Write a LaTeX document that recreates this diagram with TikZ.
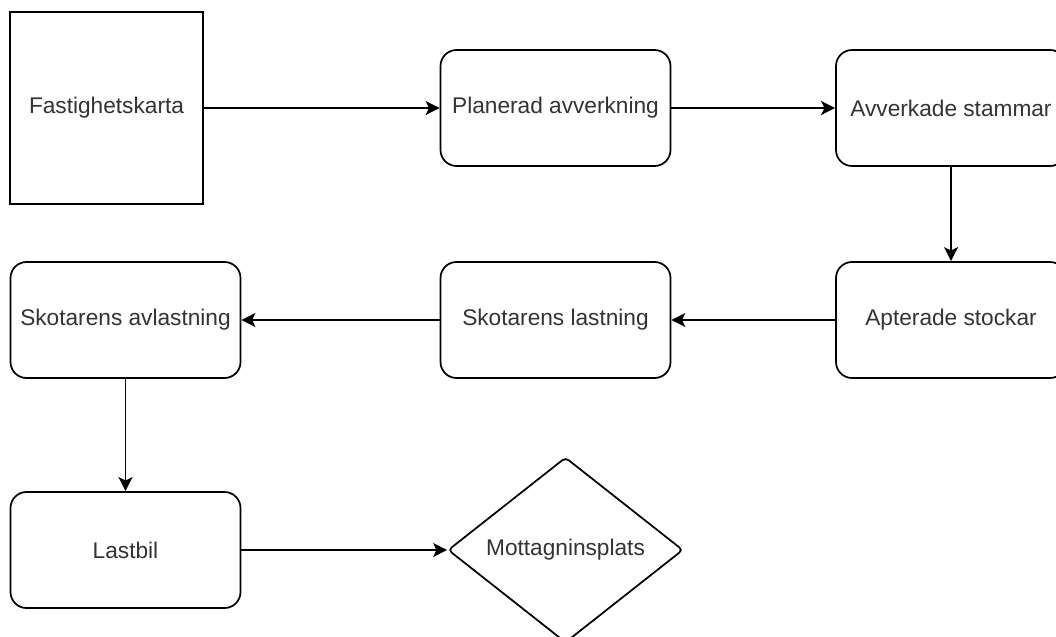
\documentclass[tikz,border=0pt]{standalone}
\usepackage{fontspec}
\setmainfont{Liberation Sans}
\usetikzlibrary{arrows.meta,shapes.geometric}
\definecolor{txt}{HTML}{333333}
\begin{document}
\begin{tikzpicture}[x=0.75pt,y=-0.75pt,
  every node/.style={font=\fontsize{17}{20}\selectfont, text=txt},
  procbox/.style={draw=black, line width=1.3pt, rounded corners=12pt, fill=white,
    minimum width=172.5pt, minimum height=87pt, inner sep=0pt},
  sqbox/.style={draw=black, line width=1.3pt, fill=white,
    minimum width=144.75pt, minimum height=144pt, inner sep=0pt},
  endbox/.style={draw=black, line width=1.3pt, diamond, rounded corners=3pt, fill=white,
    minimum width=176.25pt, minimum height=139pt, inner sep=0pt},
  flow/.style={draw=black, line width=1.3pt, -{Stealth[length=10.5pt,width=10.5pt,inset=2.5pt]}}
]
\clip (0,0) rectangle (1056,636);
\useasboundingbox (0,0) rectangle (1056,636);
\node[sqbox]   (fast) at (106.5,108) {Fastighetskarta};
\node[procbox] (plan) at (555.5,108) {Planerad avverkning};
\node[procbox] (avv)  at (951,108)   {Avverkade stammar};
\node[procbox] (apt)  at (951,320)   {Apterade stockar};
\node[procbox] (skl)  at (555.5,320) {Skotarens lastning};
\node[procbox] (ska)  at (125.5,320) {Skotarens avlastning};
\node[procbox] (last) at (125.5,550) {Lastbil};
\node[endbox]  (mott) at (565.5,550) {Mottagninsplats};
\draw[flow] (fast.east) -- (plan.west);
\draw[flow] (plan.east) -- (avv.west);
\draw[flow] (avv.south) -- (apt.north);
\draw[flow] (apt.west) -- (skl.east);
\draw[flow] (skl.west) -- (ska.east);
\draw[flow] (ska.south) -- (last.north);
\draw[flow] (last.east) -- (mott.west);
\end{tikzpicture}
\end{document}
